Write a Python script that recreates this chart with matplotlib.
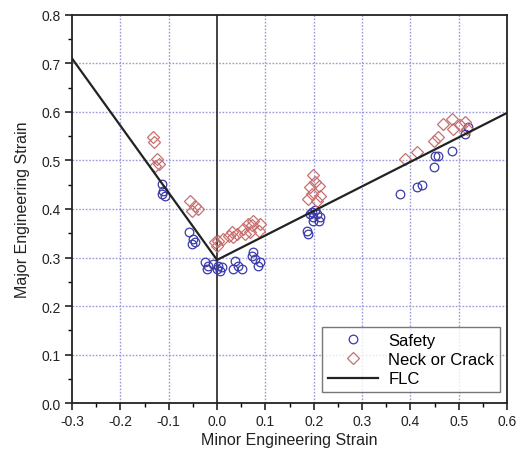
import matplotlib
matplotlib.use("Agg")
import matplotlib.pyplot as plt
from matplotlib.ticker import MultipleLocator

plt.rcParams['font.family'] = ['Liberation Sans', 'DejaVu Sans']

safety_x = [-0.114, -0.112, -0.114, -0.108,
            -0.059, -0.049, -0.052, -0.045,
            -0.025, -0.021, -0.018, -0.008, -0.001, 0.006, 0.003, 0.010,
            0.037, 0.044, 0.051, 0.034, 0.072, 0.079, 0.089, 0.075, 0.085,
            0.189, 0.186, 0.192, 0.199, 0.206, 0.213, 0.210, 0.199, 0.196, 0.203,
            0.379, 0.413, 0.424, 0.448, 0.451, 0.458, 0.486, 0.513, 0.520]
safety_y = [0.452, 0.437, 0.431, 0.427,
            0.352, 0.338, 0.328, 0.331,
            0.290, 0.276, 0.283, 0.287, 0.276, 0.273, 0.283, 0.280,
            0.293, 0.283, 0.276, 0.276, 0.304, 0.297, 0.290, 0.311, 0.283,
            0.348, 0.355, 0.390, 0.383, 0.390, 0.383, 0.376, 0.376, 0.393, 0.397,
            0.431, 0.445, 0.449, 0.486, 0.510, 0.510, 0.520, 0.555, 0.568]

neck_x = [-0.132, -0.130, -0.125, -0.121, -0.128,
          -0.056, -0.046, -0.039, -0.052,
          -0.004, 0.003, 0.000, 0.013, 0.024, 0.030, 0.034, 0.041, 0.054,
          0.065, 0.072, 0.075, 0.068, 0.058, 0.088, 0.086,
          0.199, 0.203, 0.192, 0.210, 0.196, 0.213, 0.189, 0.206,
          0.389, 0.413, 0.448, 0.458, 0.468, 0.486, 0.489, 0.503, 0.513, 0.517]
neck_y = [0.548, 0.537, 0.503, 0.493, 0.489,
          0.417, 0.407, 0.400, 0.396,
          0.331, 0.335, 0.324, 0.338, 0.345, 0.352, 0.342, 0.348, 0.359,
          0.369, 0.366, 0.376, 0.352, 0.348, 0.370, 0.355,
          0.469, 0.455, 0.445, 0.448, 0.431, 0.427, 0.421, 0.417,
          0.503, 0.517, 0.541, 0.548, 0.575, 0.586, 0.565, 0.572, 0.579, 0.565]

flc_x = [-0.3, 0.0, 0.6]
flc_y = [0.71, 0.295, 0.598]

fig = plt.figure(figsize=(5.18, 4.64), dpi=100)
ax = fig.add_axes([0.139, 0.129, 0.840, 0.837])

grid_color = '#9a9ad8'
for gx in [-0.2, -0.1, 0.1, 0.2, 0.3, 0.4, 0.5]:
    ax.axvline(gx, color=grid_color, linestyle=(0, (1.2, 1.2)), linewidth=1.0, zorder=0)
for gy in [0.1, 0.2, 0.3, 0.4, 0.5, 0.6, 0.7]:
    ax.axhline(gy, color=grid_color, linestyle=(0, (1.2, 1.2)), linewidth=1.0, zorder=0)
ax.axvline(0.0, color='#222222', linewidth=1.2, zorder=1)

ax.plot(safety_x, safety_y, linestyle='none', marker='o', markersize=6.2,
        markerfacecolor='none', markeredgecolor='#3a3aa8', markeredgewidth=0.9,
        label='Safety', zorder=3)
ax.plot(neck_x, neck_y, linestyle='none', marker='D', markersize=6.3,
        markerfacecolor='none', markeredgecolor='#c87070', markeredgewidth=0.9,
        label='Neck or Crack', zorder=3)
ax.plot(flc_x, flc_y, color='#222222', linewidth=1.6, label='FLC', zorder=4)

ax.set_xlim(-0.3, 0.6)
ax.set_ylim(0.0, 0.8)
ax.xaxis.set_major_locator(MultipleLocator(0.1))
ax.xaxis.set_minor_locator(MultipleLocator(0.05))
ax.yaxis.set_major_locator(MultipleLocator(0.1))
ax.yaxis.set_minor_locator(MultipleLocator(0.05))
ax.xaxis.set_major_formatter(matplotlib.ticker.FormatStrFormatter('%.1f'))
ax.yaxis.set_major_formatter(matplotlib.ticker.FormatStrFormatter('%.1f'))
ax.tick_params(which='major', direction='out', length=5, width=1.2, labelsize=10,
               colors='#222222', top=False, right=False, pad=3)
ax.tick_params(which='minor', direction='out', length=3, width=1.0, top=False, right=False)
for s in ax.spines.values():
    s.set_linewidth(1.3)
    s.set_color('#222222')

ax.set_xlabel('Minor Engineering Strain', fontsize=11.5, color='#222222', labelpad=3)
ax.set_ylabel('Major Engineering Strain', fontsize=11.5, color='#222222', labelpad=8)

leg = ax.legend(loc='lower right', fontsize=12, frameon=True, fancybox=False,
                edgecolor='#555555', handlelength=3.0, borderpad=0.35,
                labelspacing=0.25, handletextpad=0.6, borderaxespad=0,
                bbox_to_anchor=(0.984, 0.028))
leg.get_frame().set_linewidth(1.0)

fig.savefig('out.png', dpi=100)
